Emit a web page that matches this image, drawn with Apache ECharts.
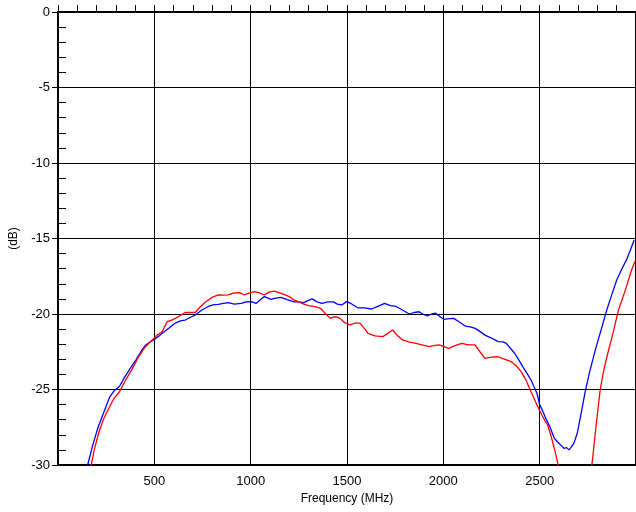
<!DOCTYPE html>
<html><head><meta charset="utf-8">
<script src="https://cdn.jsdelivr.net/npm/echarts@6/dist/echarts.min.js"></script>
<style>html,body{margin:0;padding:0;background:#fff}#c{width:636px;height:512px}</style>
</head><body><div id="c"></div>
<script>
const xRange = [0, 3000];
const yRange = [-30, 0];
const xLabelStep = 500;
const yLabelStep = 5;
const blueData = [[150,-30.3],[156,-29.9],[180,-28.7],[208,-27.5],[235,-26.6],[268,-25.5],[290,-25.1],[319,-24.8],[345,-24.2],[375,-23.6],[404,-23.05],[430,-22.5],[455,-22.05],[478,-21.85],[498,-21.7],[520,-21.5],[541,-21.28],[575,-20.95],[609,-20.6],[635,-20.45],[660,-20.4],[690,-20.2],[712,-20.07],[745,-19.75],[780,-19.5],[805,-19.4],[832,-19.36],[858,-19.3],[883,-19.25],[915,-19.35],[951,-19.3],[975,-19.2],[1003,-19.18],[1028,-19.3],[1050,-19.05],[1071,-18.85],[1090,-18.95],[1105,-19.03],[1130,-18.95],[1156,-18.9],[1190,-19.05],[1225,-19.2],[1250,-19.2],[1276,-19.25],[1300,-19.1],[1319,-19.0],[1345,-19.2],[1370,-19.3],[1400,-19.2],[1430,-19.2],[1450,-19.35],[1473,-19.4],[1498,-19.18],[1520,-19.3],[1558,-19.6],[1590,-19.6],[1627,-19.67],[1660,-19.5],[1695,-19.3],[1725,-19.45],[1755,-19.5],[1790,-19.75],[1823,-20.0],[1850,-19.9],[1874,-19.85],[1900,-20.05],[1917,-20.13],[1940,-20.0],[1960,-19.95],[1985,-20.2],[2003,-20.35],[2030,-20.3],[2054,-20.29],[2085,-20.55],[2114,-20.8],[2140,-20.85],[2165,-20.95],[2190,-21.15],[2216,-21.4],[2250,-21.6],[2285,-21.83],[2310,-21.85],[2327,-21.94],[2350,-22.3],[2370,-22.6],[2390,-23.0],[2413,-23.5],[2435,-23.95],[2455,-24.37],[2470,-24.8],[2486,-25.25],[2500,-26.0],[2515,-26.4],[2535,-27.0],[2553,-27.46],[2575,-28.2],[2592,-28.46],[2609,-28.67],[2626,-28.9],[2640,-28.85],[2652,-29.0],[2665,-28.8],[2678,-28.55],[2695,-27.9],[2715,-26.6],[2737,-25.1],[2760,-23.8],[2789,-22.38],[2820,-21.0],[2849,-19.7],[2875,-18.7],[2900,-17.75],[2925,-17.05],[2951,-16.4],[2970,-15.8],[2990,-15.1]];
const redData = [[165,-30.3],[173,-29.95],[190,-28.9],[213,-27.8],[235,-27.0],[259,-26.36],[290,-25.6],[319,-25.15],[350,-24.4],[387,-23.6],[415,-22.9],[447,-22.27],[470,-21.95],[490,-21.7],[515,-21.4],[541,-21.17],[555,-20.8],[567,-20.5],[590,-20.4],[609,-20.29],[635,-20.1],[660,-19.9],[690,-19.9],[712,-19.9],[740,-19.5],[772,-19.14],[800,-18.9],[832,-18.74],[858,-18.75],[883,-18.74],[915,-18.6],[943,-18.59],[968,-18.74],[995,-18.6],[1020,-18.52],[1045,-18.6],[1071,-18.74],[1095,-18.55],[1122,-18.48],[1150,-18.6],[1173,-18.7],[1200,-18.85],[1225,-19.07],[1250,-19.2],[1276,-19.34],[1300,-19.45],[1327,-19.5],[1345,-19.55],[1362,-19.62],[1390,-20.0],[1413,-20.29],[1430,-20.2],[1447,-20.2],[1464,-20.29],[1485,-20.55],[1515,-20.73],[1540,-20.6],[1567,-20.6],[1590,-20.95],[1609,-21.28],[1645,-21.45],[1686,-21.5],[1710,-21.3],[1737,-21.06],[1760,-21.4],[1789,-21.72],[1820,-21.85],[1857,-21.94],[1890,-22.05],[1926,-22.16],[1950,-22.1],[1977,-22.05],[2000,-22.15],[2028,-22.27],[2060,-22.1],[2096,-21.94],[2130,-22.05],[2165,-22.05],[2190,-22.5],[2216,-22.94],[2250,-22.85],[2285,-22.83],[2320,-23.0],[2353,-23.16],[2380,-23.45],[2404,-23.82],[2430,-24.4],[2455,-25.15],[2478,-25.8],[2498,-26.36],[2520,-26.9],[2541,-27.35],[2555,-27.9],[2567,-28.46],[2580,-29.1],[2592,-29.78],[2600,-30.3],[2765,-30.5],[2772,-29.9],[2792,-27.5],[2814,-25.03],[2830,-23.9],[2849,-22.83],[2880,-21.3],[2909,-19.74],[2945,-18.4],[2977,-17.09],[2995,-16.5]];
const xName = 'Frequency (MHz)';
const yName = '(dB)';

const font = 'Liberation Sans, Arial, sans-serif';
const chart = echarts.init(document.getElementById('c'), null, {renderer: 'canvas'});
chart.setOption({
  animation: false,
  backgroundColor: '#fff',
  grid: {left: 54, top: 12, width: 586, height: 453, show: true, borderColor: '#000', borderWidth: 2, backgroundColor: 'transparent'},
  xAxis: [{
    type: 'value', min: xRange[0], max: xRange[1], interval: xLabelStep, position: 'bottom',
    name: xName, nameLocation: 'middle', nameGap: 27,
    nameTextStyle: {color: '#000', fontSize: 12, fontFamily: font},
    axisLine: {show: true, lineStyle: {color: '#000', width: 2}},
    axisTick: {show: true, inside: true, length: 7, lineStyle: {color: '#000'}},
    minorTick: {show: true, splitNumber: 5, length: 7, lineStyle: {color: '#000', width: 1}},
    axisLabel: {color: '#000', fontSize: 13, fontFamily: font, margin: 10, showMinLabel: false, showMaxLabel: false,
      formatter: v => String(v)},
    splitLine: {show: true, lineStyle: {color: '#000', width: 1}}
  }],
  yAxis: [{
    type: 'value', min: yRange[0], max: yRange[1], interval: yLabelStep, position: 'left',
    name: yName, nameLocation: 'middle', nameGap: 38, nameRotate: 90,
    nameTextStyle: {color: '#000', fontSize: 12, fontFamily: font},
    axisLine: {show: true, lineStyle: {color: '#000', width: 2}},
    axisTick: {show: true, inside: false, length: 6, lineStyle: {color: '#000'}},
    axisLabel: {color: '#000', fontSize: 13, fontFamily: font, margin: 8, formatter: v => String(v)},
    splitLine: {show: true, lineStyle: {color: '#000', width: 1}}
  }, {
    type: 'value', min: yRange[0], max: yRange[1], interval: 1, position: 'left',
    axisLine: {show: false},
    axisTick: {show: true, inside: true, length: 8, lineStyle: {color: '#000'}},
    axisLabel: {show: false},
    splitLine: {show: false}
  }],
  series: [{
    type: 'line', data: blueData, xAxisIndex: 0, yAxisIndex: 0, showSymbol: false, clip: true,
    lineStyle: {color: '#0000ff', width: 1.3}
  }, {
    type: 'line', data: redData, xAxisIndex: 0, yAxisIndex: 0, showSymbol: false, clip: true,
    lineStyle: {color: '#ff0000', width: 1.3}
  }]
});
</script></body></html>
